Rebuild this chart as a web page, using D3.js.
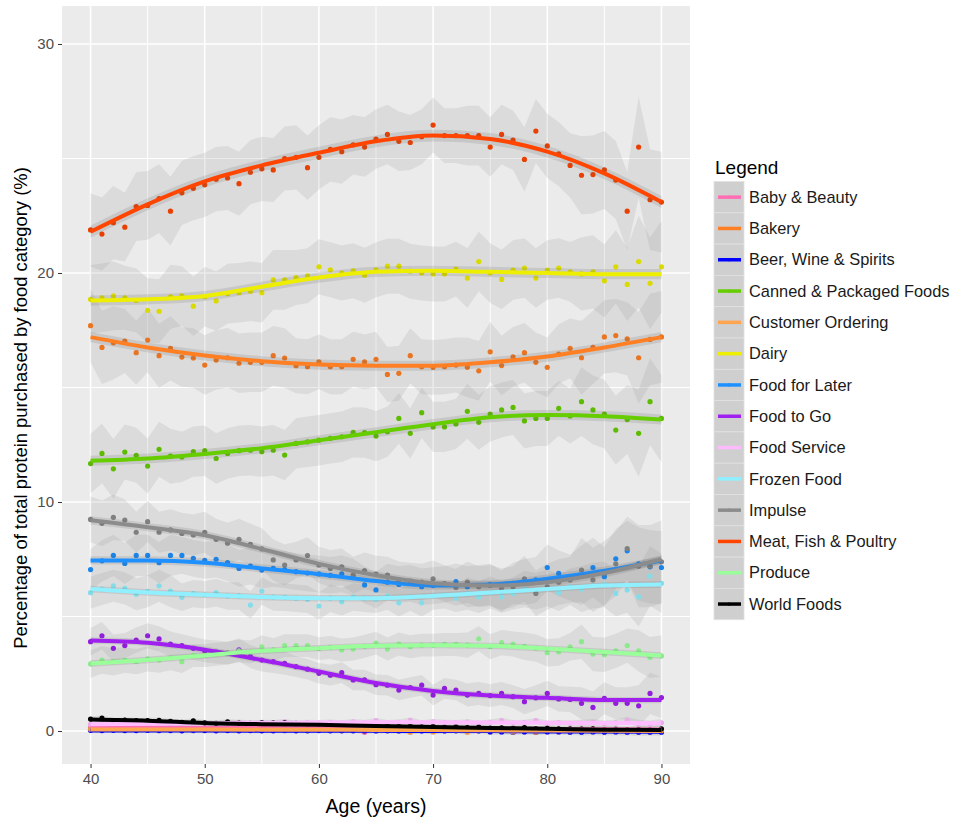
<!DOCTYPE html>
<html>
<head>
<meta charset="utf-8">
<script src="https://cdn.jsdelivr.net/npm/d3@7"></script>
<style>
  body { margin: 0; background: #fff; }
  svg { display: block; font-family: "Liberation Sans", Arial, sans-serif; }
</style>
</head>
<body>
<svg id="chart" width="957" height="818"></svg>
<script>
var ages = d3.range(40, 91);
var fitAges = [40, 45, 50, 55, 60, 65, 70, 75, 80, 85, 90];

var categories = ["Baby & Beauty", "Bakery", "Beer, Wine & Spirits", "Canned & Packaged Foods",
  "Customer Ordering", "Dairy", "Food for Later", "Food to Go", "Food Service", "Frozen Food",
  "Impulse", "Meat, Fish & Poultry", "Produce", "World Foods"];
var colors = ["#FF6EB4", "#FF7F24", "#0000FF", "#66CD00", "#FFA54F", "#EEEE00", "#1E90FF",
  "#A020F0", "#FFBBFF", "#90F0FF", "#8C8C8C", "#FF4500", "#9AFF9A", "#000000"];

// yearly points (age 40..90)
var babyPts = [0.15,0.14,0.16,0.13,0.15,0.14,0.13,0.15,0.14,0.12,0.15,0.13,0.14,0.12,0.13,0.14,0.12,0.13,0.11,0.12,0.13,0.11,0.12,0.1,-0.05,0.11,0.1,0.12,0.1,0.11,0.09,0.1,0.11,0.09,0.1,0.08,0.1,0.09,0.08,0.1,0.09,0.08,0.07,0.08,0.09,0.07,0.08,0.06,0.07,0.06,0.07];
var bakeryPts = [17.7,16.75,16.95,17.03,16.52,17.07,16.39,16.71,16.33,16.29,15.98,16.2,16.3,16.06,16.1,16.1,16.39,16.29,15.95,15.91,16.12,15.91,15.91,16.23,16.12,16.23,15.57,15.62,16.39,15.91,15.88,15.91,15.98,15.88,15.73,16.56,15.96,16.34,16.52,16.1,15.88,16.46,16.71,16.3,16.75,17.21,17.27,17.12,16.3,17.1,17.21];
var beerPts = [0.03,0.02,0.03,0.02,0.02,0.03,0.02,0.02,0.01,0.02,0.02,0.01,0.02,0.01,0.02,0.01,0.01,0.02,0.01,0.01,0.02,0.01,0.01,0.01,0.01,0.0,0.01,0.0,0.01,0.0,0.0,0.0,0.01,0.0,0.0,-0.04,-0.04,-0.05,-0.04,-0.05,-0.04,-0.04,-0.05,-0.05,-0.04,-0.05,-0.04,-0.05,-0.05,-0.05,-0.05];
var cannedPts = [11.68,12.12,11.45,12.18,12.04,11.57,12.3,12.0,11.97,12.2,12.24,11.9,12.12,12.24,12.26,12.2,12.26,12.05,12.56,12.63,12.7,12.78,12.85,13.04,13.03,12.88,13.07,13.65,13.0,13.9,13.28,13.28,13.41,13.96,13.48,13.84,14.02,14.13,13.54,13.65,13.65,14.09,13.76,14.38,14.02,13.84,13.14,13.6,13.0,14.38,13.65];
var orderingPts = [0.08,0.07,0.08,0.07,0.08,0.07,0.07,0.08,0.07,0.06,0.07,0.06,0.07,0.06,0.06,0.07,0.06,0.05,0.06,0.05,0.06,0.05,0.05,0.06,0.04,0.05,0.04,0.05,-0.05,0.04,-0.04,0.04,0.03,-0.05,0.04,0.03,0.02,-0.04,0.03,-0.05,0.02,0.02,0.01,0.02,0.01,0.02,0.01,0.0,0.01,0.0,0.01];
var dairyPts = [18.85,18.92,19.0,18.92,18.8,18.37,18.33,18.96,19.0,18.55,18.96,18.78,19.1,19.14,19.2,19.14,19.7,19.7,19.8,19.88,20.27,20.14,20.0,20.1,19.9,20.14,20.3,20.3,20.08,20.0,19.96,19.96,20.17,19.78,20.5,20.0,19.72,20.13,20.22,19.78,20.13,20.22,20.05,19.96,20.05,19.66,20.27,19.5,20.5,19.55,20.27];
var laterPts = [7.05,7.43,7.67,7.32,7.67,7.67,7.35,7.67,7.67,7.54,7.45,7.5,7.35,7.1,7.2,7.03,7.1,7.05,6.96,6.9,6.86,6.8,6.86,6.72,6.38,6.16,6.5,6.4,6.45,6.3,6.35,6.4,6.52,6.3,6.35,6.4,6.11,6.45,6.5,6.6,7.14,6.88,6.7,6.8,7.14,6.74,7.52,7.87,7.3,7.17,7.14];
var togoPts = [3.9,4.16,3.61,3.73,3.97,4.16,4.02,3.8,3.73,3.61,3.5,3.45,3.4,3.54,3.25,3.1,3.03,2.96,2.81,2.7,2.52,2.44,2.55,2.23,2.23,2.02,2.0,1.79,1.9,2.0,1.57,1.86,1.79,1.57,1.64,1.55,1.64,1.5,1.28,1.45,1.64,1.4,1.38,1.21,1.03,1.43,1.21,1.21,1.1,1.64,1.46];
var servicePts = [0.3,0.32,0.28,0.3,0.33,0.31,0.35,0.3,0.34,0.32,0.36,0.33,0.35,0.38,0.34,0.36,0.35,0.4,0.33,0.37,0.36,0.38,0.35,0.4,0.37,0.45,0.36,0.38,0.47,0.35,0.4,0.37,0.36,0.39,0.34,0.38,0.46,0.35,0.37,0.45,0.33,0.36,0.34,0.35,0.38,0.32,0.36,0.47,0.33,0.3,0.36];
var frozenPts = [6.04,6.2,6.34,6.23,5.97,6.1,6.34,6.11,5.84,6.0,5.95,6.04,5.9,5.9,5.5,6.11,5.85,5.84,5.8,5.75,5.46,5.8,5.65,5.85,5.8,5.75,5.9,5.6,5.85,5.6,5.9,5.95,5.8,6.0,5.85,6.05,5.86,6.0,6.2,6.1,6.25,6.04,6.3,6.2,6.35,6.4,6.01,6.16,5.86,6.77,6.45];
var impulsePts = [9.24,9.07,9.33,9.21,8.68,9.14,8.68,8.78,8.63,8.56,8.68,8.37,8.2,8.37,8.15,7.95,7.47,7.25,7.47,7.66,7.25,7.1,7.17,6.81,7.0,6.85,6.81,6.6,6.55,6.5,6.65,6.44,6.27,6.5,6.3,6.35,6.2,6.3,6.65,6.01,6.3,6.5,6.6,7.03,6.6,6.9,7.3,7.97,7.2,7.2,7.39];
var meatPts = [21.88,21.7,22.2,22.0,22.9,22.95,23.25,22.7,23.5,23.7,23.85,24.1,24.15,23.9,24.4,24.55,24.5,25.0,25.05,24.6,25.05,25.4,25.3,25.6,25.5,25.85,26.05,25.75,25.7,25.95,26.46,26.0,26.0,26.0,26.0,25.5,26.05,25.8,24.96,26.2,25.55,25.2,24.7,24.27,24.3,24.5,24.06,22.7,25.5,23.2,23.1];
var producePts = [2.93,3.1,3.03,3.1,3.03,3.15,3.1,3.2,3.03,3.3,3.3,3.35,3.4,3.5,3.45,3.68,3.55,3.73,3.73,3.73,3.6,3.65,3.54,3.58,3.7,3.84,3.58,3.8,3.68,3.75,3.75,3.78,3.78,3.75,4.03,3.68,3.86,3.8,3.7,3.62,3.42,3.45,3.68,3.9,3.36,3.33,3.5,3.73,3.5,3.21,3.28];
var worldPts = [0.52,0.56,0.45,0.48,0.45,0.46,0.47,0.42,0.38,0.44,0.36,0.34,0.4,0.35,0.33,0.37,0.36,0.37,0.34,0.3,0.31,0.28,0.27,0.3,0.25,0.22,0.24,0.2,0.22,0.18,0.2,0.16,0.18,0.15,0.17,0.13,0.14,0.12,0.15,0.1,0.12,0.09,0.1,0.08,0.1,0.06,0.07,0.05,0.06,0.04,0.1];

// smooth fit read at fitAges
var babyFit = [0.14,0.14,0.13,0.13,0.12,0.11,0.1,0.09,0.09,0.08,0.07];
var bakeryFit = [17.2,16.75,16.4,16.15,16.0,15.95,15.95,16.1,16.35,16.75,17.2];
var beerFit = [0.02,0.02,0.02,0.01,0.01,0.01,0.0,0.0,-0.02,-0.02,-0.03];
var cannedFit = [11.8,11.9,12.1,12.35,12.7,13.05,13.4,13.7,13.8,13.75,13.6];
var orderingFit = [0.07,0.07,0.07,0.06,0.06,0.05,0.04,0.03,0.02,0.01,0.0];
var dairyFit = [18.8,18.85,19.0,19.4,19.8,20.05,20.1,20.05,20.0,19.95,19.95];
var laterFit = [7.45,7.45,7.35,7.1,6.85,6.55,6.35,6.4,6.65,7.0,7.45];
var togoFit = [3.95,3.85,3.55,3.1,2.6,2.1,1.75,1.55,1.45,1.35,1.35];
var serviceFit = [0.3,0.32,0.34,0.36,0.37,0.38,0.38,0.37,0.36,0.35,0.34];
var frozenFit = [6.2,6.05,5.95,5.85,5.8,5.8,5.9,6.05,6.2,6.35,6.4];
var impulseFit = [9.2,8.9,8.55,7.95,7.3,6.8,6.45,6.35,6.5,6.9,7.5];
var meatFit = [21.8,23.0,24.0,24.7,25.25,25.75,26.0,25.85,25.3,24.35,23.1];
var produceFit = [2.95,3.1,3.3,3.5,3.62,3.72,3.75,3.72,3.6,3.45,3.3];
var worldFit = [0.5,0.45,0.35,0.3,0.27,0.22,0.18,0.13,0.1,0.06,0.05];

// half width of the wide grey band, read at fitAges
var smallSpread = [0.12,0.12,0.12,0.12,0.12,0.12,0.12,0.12,0.12,0.14,0.16];
var bakerySpread = [1.6,1.4,1.3,1.3,1.2,1.2,1.2,1.3,1.3,1.6,2.0];
var cannedSpread = [1.3,1.2,1.1,1.1,1.1,1.1,1.1,1.2,1.2,1.5,1.9];
var dairySpread = [1.5,1.4,1.3,1.3,1.2,1.2,1.2,1.3,1.3,1.6,2.0];
var laterSpread = [0.9,0.9,0.8,0.8,0.8,0.8,0.8,0.9,1.0,1.3,1.6];
var togoSpread = [0.6,0.55,0.5,0.5,0.45,0.45,0.45,0.5,0.55,0.7,0.9];
var frozenSpread = [0.7,0.7,0.6,0.6,0.6,0.6,0.6,0.7,0.8,1.0,1.3];
var impulseSpread = [1.0,0.9,0.9,0.9,0.8,0.8,0.8,0.9,1.0,1.4,1.8];
var meatSpread = [1.6,1.5,1.4,1.4,1.4,1.3,1.2,1.3,1.4,1.7,2.2];
var produceSpread = [0.6,0.55,0.5,0.5,0.5,0.5,0.5,0.55,0.6,0.75,0.9];

// half width of the darker band round the fit
var ciWidths = [0.04,0.22,0.04,0.22,0.04,0.22,0.18,0.14,0.05,0.14,0.18,0.26,0.14,0.06];

var yTicks = [0, 10, 20, 30];
var xTicks = [40, 50, 60, 70, 80, 90];

var series = [
  [babyPts, babyFit, smallSpread], [bakeryPts, bakeryFit, bakerySpread],
  [beerPts, beerFit, smallSpread], [cannedPts, cannedFit, cannedSpread],
  [orderingPts, orderingFit, smallSpread], [dairyPts, dairyFit, dairySpread],
  [laterPts, laterFit, laterSpread], [togoPts, togoFit, togoSpread],
  [servicePts, serviceFit, smallSpread], [frozenPts, frozenFit, frozenSpread],
  [impulsePts, impulseFit, impulseSpread], [meatPts, meatFit, meatSpread],
  [producePts, produceFit, produceSpread], [worldPts, worldFit, smallSpread]
].map(function(s, i) {
  return { name: categories[i], color: colors[i], pts: s[0], fit: s[1], spread: s[2], ci: ciWidths[i] };
});

var svg = d3.select("#chart");
var panel = { left: 62, right: 690, top: 6, bottom: 764 };

var x = d3.scaleLinear().domain([37.5, 92.5]).range([panel.left, panel.right]);
var y = d3.scaleLinear().domain([-1.44, 31.66]).range([panel.bottom, panel.top]);

svg.append("rect")
  .attr("x", panel.left).attr("y", panel.top)
  .attr("width", panel.right - panel.left).attr("height", panel.bottom - panel.top)
  .attr("fill", "#EBEBEB");

var grid = svg.append("g");
[5, 15, 25].forEach(function(v) {
  grid.append("line").attr("x1", panel.left).attr("x2", panel.right)
    .attr("y1", y(v)).attr("y2", y(v)).attr("stroke", "#fff").attr("stroke-width", 1);
});
[45, 55, 65, 75, 85].forEach(function(v) {
  grid.append("line").attr("y1", panel.top).attr("y2", panel.bottom)
    .attr("x1", x(v)).attr("x2", x(v)).attr("stroke", "#fff").attr("stroke-width", 1);
});
yTicks.forEach(function(v) {
  grid.append("line").attr("x1", panel.left).attr("x2", panel.right)
    .attr("y1", y(v)).attr("y2", y(v)).attr("stroke", "#fff").attr("stroke-width", 1.6);
});
xTicks.forEach(function(v) {
  grid.append("line").attr("y1", panel.top).attr("y2", panel.bottom)
    .attr("x1", x(v)).attr("x2", x(v)).attr("stroke", "#fff").attr("stroke-width", 1.6);
});

function spreadAt(s, i) {
  return s.spread[Math.round((ages[i] - 40) / 5)];
}

var band = d3.area()
  .x(function(d, i) { return x(ages[i]); })
  .y0(function(d) { return y(d.lo); })
  .y1(function(d) { return y(d.hi); });

var fitLine = d3.line()
  .x(function(d, i) { return x(fitAges[i]); })
  .y(function(d) { return y(d); })
  .curve(d3.curveMonotoneX);

var ciArea = d3.area()
  .x(function(d, i) { return x(fitAges[i]); })
  .curve(d3.curveMonotoneX);

var plot = svg.append("g");

// wide bands
series.forEach(function(s) {
  var rows = s.pts.map(function(v, i) { return { lo: v - spreadAt(s, i), hi: v + spreadAt(s, i) }; });
  plot.append("path").datum(rows)
    .attr("d", band)
    .attr("fill", "#999").attr("fill-opacity", 0.2);
});

// points
series.forEach(function(s) {
  plot.append("g").selectAll("circle")
    .data(s.pts)
    .join("circle")
    .attr("cx", function(d, i) { return x(ages[i]); })
    .attr("cy", function(d) { return y(d); })
    .attr("r", 2.6)
    .attr("fill", d3.color(s.color).darker(0.25));
});

// fit with its darker band
series.forEach(function(s) {
  plot.append("path").datum(s.fit)
    .attr("d", ciArea.y0(function(d) { return y(d - s.ci); }).y1(function(d) { return y(d + s.ci); }))
    .attr("fill", "#666").attr("fill-opacity", 0.17);
  plot.append("path").datum(s.fit)
    .attr("d", fitLine)
    .attr("fill", "none")
    .attr("stroke", s.color)
    .attr("stroke-width", 4);
});

// axes
var yAxis = svg.append("g")
  .attr("transform", "translate(" + panel.left + ",0)")
  .call(d3.axisLeft(y).tickValues(yTicks).tickSize(4).tickPadding(4));
var xAxis = svg.append("g")
  .attr("transform", "translate(0," + panel.bottom + ")")
  .call(d3.axisBottom(x).tickValues(xTicks).tickSize(4).tickPadding(5));
[yAxis, xAxis].forEach(function(a) {
  a.select(".domain").remove();
  a.selectAll(".tick line").attr("stroke", "#333");
  a.selectAll(".tick text").attr("fill", "#4D4D4D").style("font-size", "15px")
    .style("font-family", "'Liberation Sans', Arial, sans-serif");
});

svg.append("text")
  .attr("x", (panel.left + panel.right) / 2).attr("y", 813)
  .attr("text-anchor", "middle")
  .style("font-size", "19.5px")
  .text("Age (years)");

svg.append("text")
  .attr("transform", "translate(27,408) rotate(-90)")
  .attr("text-anchor", "middle")
  .style("font-size", "18.4px")
  .text("Percentage of total protein purchased by food category (%)");

// legend
var legend = svg.append("g").attr("transform", "translate(714,0)");
legend.append("text").attr("x", 1).attr("y", 174)
  .style("font-size", "19px").text("Legend");

var keyH = 31.3, keyTop = 181.5;
var rows = legend.selectAll("g.key").data(series).join("g")
  .attr("class", "key")
  .attr("transform", function(d, i) { return "translate(0," + (keyTop + i * keyH) + ")"; });
rows.append("rect").attr("width", 30).attr("height", keyH)
  .attr("fill", "#CFCFCF").attr("stroke", "#E2E2E2").attr("stroke-width", 0.8);
rows.append("line").attr("x1", 4).attr("x2", 27)
  .attr("y1", keyH / 2).attr("y2", keyH / 2)
  .attr("stroke", function(d) { return d.color; }).attr("stroke-width", 3.5);
rows.append("circle").attr("cx", 15).attr("cy", keyH / 2).attr("r", 1.6)
  .attr("fill", function(d) { return d.color; });
rows.append("text").attr("x", 35).attr("y", keyH / 2).attr("dy", "0.35em")
  .style("font-size", "16.4px").attr("fill", "#1A1A1A")
  .text(function(d) { return d.name; });
</script>
</body>
</html>
